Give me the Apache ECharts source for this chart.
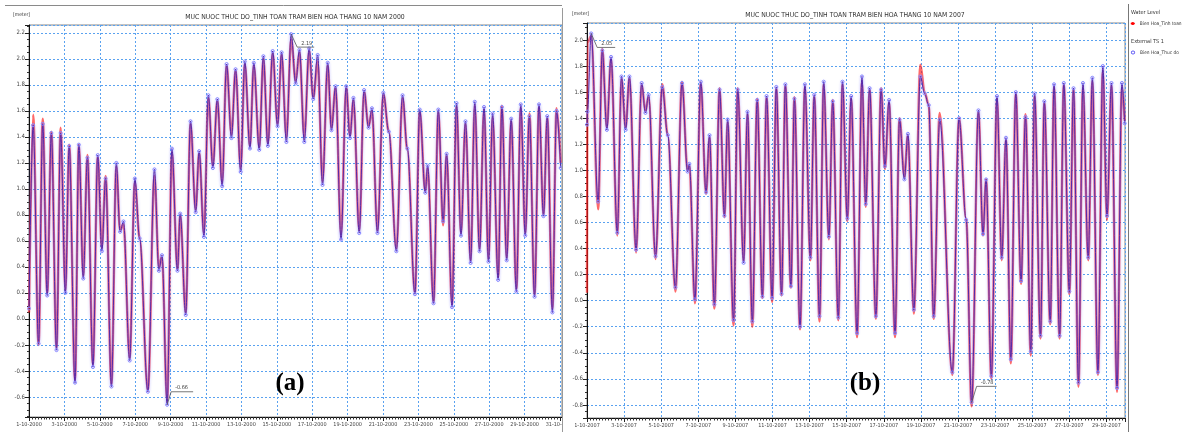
<!DOCTYPE html>
<html lang="vi">
<head>
<meta charset="UTF-8">
<title>Muc nuoc thuc do - tinh toan, tram Bien Hoa, thang 10</title>
<script src="https://cdn.jsdelivr.net/npm/echarts@6/dist/echarts.min.js"></script>
<style>
    html, body { margin: 0; padding: 0; background: #fff; }
    #chart { width: 1182px; height: 432px; }
</style>
</head>
<body>
<div id="chart"></div>
<script>
    // gio tinh tu 0h ngay 1-10, muc nuoc [m] (doc tu hinh: dinh / chan trieu)
    // (a) thang 10 nam 2000
    var hoursA = [
        0, 5.6, 13.0, 18.6, 24.7, 30.3, 37.3, 42.9, 49.4, 54.5,
        62.4, 67.6, 73.6, 79.2, 86.7, 93.2, 98.8, 103.9, 111.8, 118.4,
        123.5, 128.1, 136.5, 143.5, 150.0, 161.2, 170.1, 176.1, 180.3, 187.3,
        193.8, 201.3, 205.0, 212.5, 219.0, 226.0, 230.7, 237.2, 243.2, 249.3,
        255.4, 261.9, 267.9, 274.5, 280.1, 287.0, 292.6, 299.6, 304.8, 312.2,
        317.8, 323.9, 330.4, 337.0, 342.5, 349.0, 355.5, 361.6, 366.7, 373.3,
        379.8, 385.4, 391.4, 398.0, 405.0, 410.1, 415.7, 423.1, 430.1, 435.2,
        439.9, 447.8, 454.3, 460.4, 465.0, 472.5, 480.4, 487.9, 498.1, 506.5,
        513.0, 523.3, 529.8, 537.3, 540.5, 548.5, 555.0, 561.5, 566.2, 573.6,
        579.7, 585.7, 591.8, 598.8, 604.4, 610.9, 617.0, 623.0, 628.6, 636.1,
        641.2, 647.7, 653.8, 660.8, 666.8, 672.9, 678.5, 685.5, 691.5, 697.6,
        702.7, 709.7, 715.3, 720.9
    ];
    var measA = [
        0.08, 1.49, -0.19, 1.50, 0.18, 1.43, -0.24, 1.43, 0.20, 1.33,
        -0.49, 1.34, 0.31, 1.24, -0.37, 1.26, 0.52, 1.08, -0.52, 1.20,
        0.67, 0.75, -0.32, 1.08, 0.62, -0.56, 1.15, 0.37, 0.49, -0.66,
        1.31, 0.37, 0.81, 0.03, 1.52, 0.82, 1.29, 0.63, 1.72, 1.16,
        1.69, 1.02, 1.96, 1.39, 1.92, 1.13, 1.98, 1.31, 1.97, 1.30,
        2.02, 1.33, 2.06, 1.48, 2.05, 1.36, 2.19, 1.81, 2.07, 1.36,
        2.08, 1.69, 2.03, 1.03, 1.97, 1.45, 1.79, 0.61, 1.79, 1.39,
        1.70, 0.66, 1.76, 1.47, 1.62, 0.66, 1.74, 1.44, 0.52, 1.72,
        1.31, 0.19, 1.61, 0.97, 1.18, 0.12, 1.61, 0.75, 1.27, 0.09,
        1.66, 0.64, 1.52, 0.43, 1.67, 0.52, 1.63, 0.44, 1.58, 0.30,
        1.63, 0.45, 1.54, 0.21, 1.65, 0.64, 1.56, 0.17, 1.65, 0.79,
        1.56, 0.05, 1.60, 1.16
    ];
    var calcA = [
        0.05, 1.57, -0.20, 1.54, 0.20, 1.44, -0.22, 1.47, 0.22, 1.34,
        -0.47, 1.34, 0.33, 1.26, -0.35, 1.25, 0.55, 1.10, -0.50, 1.17,
        0.68, 0.73, -0.30, 1.05, 0.62, -0.55, 1.10, 0.40, 0.48, -0.63,
        1.28, 0.38, 0.80, 0.05, 1.50, 0.84, 1.28, 0.66, 1.70, 1.18,
        1.68, 1.05, 1.95, 1.42, 1.91, 1.16, 1.96, 1.33, 1.95, 1.32,
        2.00, 1.35, 2.04, 1.50, 2.03, 1.40, 2.15, 1.83, 2.05, 1.40,
        2.06, 1.70, 1.98, 1.06, 1.95, 1.47, 1.78, 0.65, 1.78, 1.41,
        1.68, 0.68, 1.75, 1.48, 1.60, 0.68, 1.73, 1.44, 0.54, 1.70,
        1.30, 0.20, 1.60, 0.98, 1.16, 0.13, 1.59, 0.72, 1.26, 0.11,
        1.63, 0.66, 1.50, 0.45, 1.64, 0.54, 1.61, 0.46, 1.55, 0.32,
        1.64, 0.47, 1.53, 0.23, 1.62, 0.66, 1.58, 0.19, 1.63, 0.80,
        1.55, 0.08, 1.62, 1.20
    ];

    // (b) thang 10 nam 2007
    var hoursB = [
        0, 0.6, 5.4, 14.4, 19.8, 25.7, 31.1, 39.2, 44.6, 50.0,
        54.9, 63.5, 70.7, 75.6, 79.7, 88.7, 97.3, 104.5, 114.4, 122.9,
        130.1, 132.4, 139.6, 147.2, 154.0, 158.5, 164.8, 171.5, 177.8, 181.9,
        189.6, 195.0, 202.6, 207.6, 213.9, 220.2, 226.9, 232.3, 239.5, 244.9,
        251.7, 256.6, 263.8, 268.3, 275.6, 281.9, 289.0, 294.0, 300.8, 306.2,
        312.9, 317.9, 325.1, 330.5, 336.8, 341.7, 349.4, 355.7, 360.6, 365.6,
        373.7, 380.5, 385.4, 390.8, 398.5, 404.3, 410.6, 415.1, 422.8, 431.3,
        436.7, 442.1, 448.5, 456.3, 472.6, 481.3, 490.5,
        497.6, 506.4, 512.3, 516.3, 523.1, 530.4, 536.5, 542.0, 548.3, 554.7,
        561.5, 567.3, 574.1, 579.0, 586.7, 591.6, 599.3, 604.2, 611.4, 616.8,
        624.0, 629.4, 635.8, 641.6, 648.4, 653.8, 661.0, 667.3, 672.7, 678.5,
        685.7, 692.0, 695.6
    ];
    var measB = [
        1.35, 1.45, 2.05, 0.76, 1.92, 1.31, 1.87, 0.52, 1.72, 1.31,
        1.72, 0.39, 1.67, 1.44, 1.58, 0.34, 1.64, 1.27, 0.10, 1.67,
        0.99, 1.05, 0.01, 1.68, 0.83, 1.27, -0.03, 1.62, 0.65, 1.39,
        -0.15, 1.62, 0.29, 1.45, -0.16, 1.54, 0.03, 1.57, 0.02, 1.64,
        0.05, 1.66, 0.11, 1.55, -0.20, 1.66, 0.33, 1.58, -0.12, 1.68,
        0.49, 1.53, -0.13, 1.68, 0.63, 1.57, -0.25, 1.72, 0.74, 1.63,
        -0.12, 1.62, 1.03, 1.54, -0.25, 1.39, 0.93, 1.28, -0.07, 1.72,
        1.59, 1.50, -0.12, 1.39, -0.55, 1.40, 0.62,
        -0.78, 1.46, 0.51, 0.93, -0.58, 1.57, 0.33, 1.25, -0.45, 1.60,
        0.15, 1.41, -0.39, 1.59, -0.27, 1.53, -0.16, 1.66, -0.27, 1.67,
        0.07, 1.63, -0.63, 1.67, 0.33, 1.71, -0.55, 1.80, 0.65, 1.67,
        -0.67, 1.67, 1.36
    ];
    var calcB = [
        0.06, 1.98, 2.03, 0.70, 1.93, 1.33, 1.86, 0.50, 1.70, 1.33,
        1.71, 0.37, 1.66, 1.45, 1.57, 0.32, 1.66, 1.27, 0.07, 1.68,
        1.00, 1.04, -0.02, 1.67, 0.82, 1.25, -0.06, 1.63, 0.64, 1.37,
        -0.19, 1.63, 0.30, 1.43, -0.20, 1.55, 0.02, 1.56, -0.01, 1.63,
        0.04, 1.65, 0.10, 1.56, -0.22, 1.64, 0.31, 1.57, -0.16, 1.66,
        0.47, 1.54, -0.15, 1.66, 0.61, 1.55, -0.28, 1.68, 0.72, 1.62,
        -0.14, 1.63, 1.01, 1.52, -0.28, 1.40, 0.95, 1.27, -0.10, 1.81,
        1.60, 1.50, -0.14, 1.44, -0.57, 1.40, 0.63,
        -0.81, 1.45, 0.50, 0.93, -0.60, 1.55, 0.31, 1.24, -0.48, 1.59,
        0.13, 1.43, -0.42, 1.57, -0.29, 1.52, -0.18, 1.64, -0.29, 1.66,
        0.05, 1.62, -0.66, 1.64, 0.31, 1.68, -0.57, 1.76, 0.62, 1.65,
        -0.70, 1.64, 1.38
    ];

    var labelsA = ['1-10-2000', '3-10-2000', '5-10-2000', '7-10-2000', '9-10-2000', '11-10-2000',
        '13-10-2000', '15-10-2000', '17-10-2000', '19-10-2000', '21-10-2000', '23-10-2000',
        '25-10-2000', '27-10-2000', '29-10-2000', '31-10-2000'];
    var labelsB = ['1-10-2007', '3-10-2007', '5-10-2007', '7-10-2007', '9-10-2007', '11-10-2007',
        '13-10-2007', '15-10-2007', '17-10-2007', '19-10-2007', '21-10-2007', '23-10-2007',
        '25-10-2007', '27-10-2007', '29-10-2007'];

    var titleA = 'MUC NUOC THUC DO_TINH TOAN TRAM BIEN HOA THANG 10 NAM 2000';
    var titleB = 'MUC NUOC THUC DO_TINH TOAN TRAM BIEN HOA THANG 10 NAM 2007';

    var narrow = "'Liberation Sans Narrow', 'DejaVu Sans Condensed', 'Liberation Sans', sans-serif";
    var gridBlue = '#5aa2f0';

    function pairs(h, v) {
        return h.map(function (x, i) { return [x, v[i]]; });
    }

    function xAxisFor(idx, maxH, labels) {
        return {
            type: 'value', gridIndex: idx, min: 0, max: maxH, interval: 48,
            axisLine: { onZero: false, lineStyle: { color: '#111', width: 1 } },
            axisTick: { length: 4, lineStyle: { color: '#222' } },
            minorTick: { show: true, splitNumber: 12, length: 2.5, lineStyle: { color: '#333' } },
            splitLine: { show: true, lineStyle: { color: gridBlue, type: [2, 2] } },
            axisLabel: {
                fontSize: 5.5, fontFamily: narrow, color: '#444', margin: 5,
                formatter: function (v) {
                    return v % 48 === 0 ? (labels[v / 48] || '') : '';
                }
            }
        };
    }

    function yAxisFor(idx, minV, maxV) {
        return {
            type: 'value', gridIndex: idx, min: minV, max: maxV,
            splitNumber: 15, minInterval: 0.2, maxInterval: 0.2,
            axisLine: { show: true, onZero: false, lineStyle: { color: '#111' } },
            axisTick: { show: true, length: 4, lineStyle: { color: '#222' } },
            minorTick: { show: true, splitNumber: 4, length: 2, lineStyle: { color: '#333' } },
            splitLine: { show: true, lineStyle: { color: gridBlue, type: [2, 2] } },
            axisLabel: {
                fontSize: 6, fontFamily: narrow, color: '#444', margin: 4,
                formatter: function (v) {
                    var k = v / 0.2, r = Math.round(k);
                    if (Math.abs(k - r) > 1e-6) return '';
                    return r === 0 ? '0.0' : (r * 0.2).toFixed(1);
                }
            }
        };
    }

    function calcSeries(idx, data) {
        return {
            name: 'Bien Hoa_Tinh toan', type: 'line', xAxisIndex: idx, yAxisIndex: idx,
            data: data, smooth: 0.35, smoothMonotone: 'x', symbol: 'none',
            lineStyle: { color: 'rgba(255,25,25,0.65)', width: 2.4 },
            itemStyle: { color: '#ff0000' }, z: 2
        };
    }

    function measSeries(idx, data) {
        return {
            name: 'Bien Hoa_Thuc do', type: 'line', xAxisIndex: idx, yAxisIndex: idx,
            data: data, smooth: 0.35, smoothMonotone: 'x',
            symbol: 'circle', symbolSize: 3,
            lineStyle: { color: '#5528a8', width: 1, shadowColor: 'rgba(120,110,255,0.85)', shadowBlur: 3 },
            itemStyle: { color: 'rgba(255,255,255,0)', borderColor: '#8585ff', borderWidth: 1 }, z: 3
        };
    }

    var chart = echarts.init(document.getElementById('chart'));

    chart.setOption({
        animation: false,
        textStyle: { fontFamily: narrow },
        grid: [
            { left: 29, top: 25, width: 533, height: 392, show: true, borderColor: '#888', borderWidth: 1 },
            { left: 587, top: 23, width: 538, height: 395, show: true, borderColor: '#888', borderWidth: 1 }
        ],
        xAxis: [xAxisFor(0, 722.7, labelsA), xAxisFor(1, 696, labelsB)],
        yAxis: [yAxisFor(0, -0.754, 2.26), yAxisFor(1, -0.9, 2.13)],
        legend: [
            {
                data: ['Bien Hoa_Tinh toan'], left: 1130, top: 21, padding: 0,
                itemWidth: 4, itemHeight: 4,
                lineStyle: { color: '#ff0000', width: 1.5 },
                textStyle: { fontSize: 4.8, fontFamily: narrow, color: '#333' }
            },
            {
                data: ['Bien Hoa_Thuc do'], left: 1130, top: 50, padding: 0,
                itemWidth: 4, itemHeight: 4,
                itemStyle: { color: '#fff', borderColor: '#6a6aff', borderWidth: 1 },
                textStyle: { fontSize: 4.8, fontFamily: narrow, color: '#333' }
            }
        ],
        series: [
            calcSeries(0, pairs(hoursA, calcA)),
            measSeries(0, pairs(hoursA, measA)),
            calcSeries(1, pairs(hoursB, calcB)),
            measSeries(1, pairs(hoursB, measB))
        ]
    });

    function text(x, y, s, size, extra) {
        var style = {
            text: s, fontSize: size, fontFamily: narrow, fill: '#333',
            textAlign: 'left', align: 'left', textVerticalAlign: 'middle', verticalAlign: 'middle'
        };
        for (var k in extra) style[k] = extra[k];
        return { type: 'text', x: x, y: y, z: 50, style: style };
    }

    function line(x1, y1, x2, y2, color) {
        return {
            type: 'line', z: 50, shape: { x1: x1, y1: y1, x2: x2, y2: y2 },
            style: { stroke: color, lineWidth: 1 }
        };
    }

    // nhan min/max kieu callout
    function callout(idx, h, v, dx, dy, w, label) {
        var p = chart.convertToPixel({ gridIndex: idx }, [h, v]);
        var ex = p[0] + dx, ey = p[1] + dy;
        return [
            {
                type: 'polyline', z: 50,
                shape: { points: [[p[0], p[1]], [ex, ey], [ex + w, ey]] },
                style: { stroke: '#555', lineWidth: 0.8, fill: null }
            },
            text(ex + 4, ey - 4, label, 5.5, { fill: '#444' })
        ];
    }

    var serif = { fontFamily: "'Liberation Serif', 'DejaVu Serif', serif", fontWeight: 'bold', fill: '#000',
        textAlign: 'center', align: 'center' };
    var centred = { textAlign: 'center', align: 'center' };

    var elements = [
        line(5, 5.5, 562, 5.5, '#8a8a8a'),
        { type: 'rect', z: 40, shape: { x: 563, y: 419, width: 12, height: 13 }, style: { fill: '#fff' } },
        line(562.5, 8, 562.5, 432, '#9a9a9a'),
        line(1128.5, 4, 1128.5, 432, '#777'),
        text(295, 17, titleA, 6.8, centred),
        text(855, 15, titleB, 6.8, centred),
        text(13, 15, '[meter]', 5, {}),
        text(572, 14, '[meter]', 5, {}),
        text(290, 384, '(a)', 25, serif),
        text(865, 384, '(b)', 25, serif),
        text(1131, 13, 'Water Level', 5.5, {}),
        text(1131, 42, 'External TS 1', 5.5, {})
    ];
    elements = elements
        .concat(callout(0, 355.5, 2.19, 6, 13, 17, '2.19'))
        .concat(callout(0, 187.3, -0.66, 4, -13, 22, '-0.66'))
        .concat(callout(1, 5.4, 2.05, 6, 14, 18, '2.05'))
        .concat(callout(1, 497.6, -0.78, 5, -16, 20, '-0.78'));

    chart.setOption({ graphic: { elements: elements } });
</script>
</body>
</html>
